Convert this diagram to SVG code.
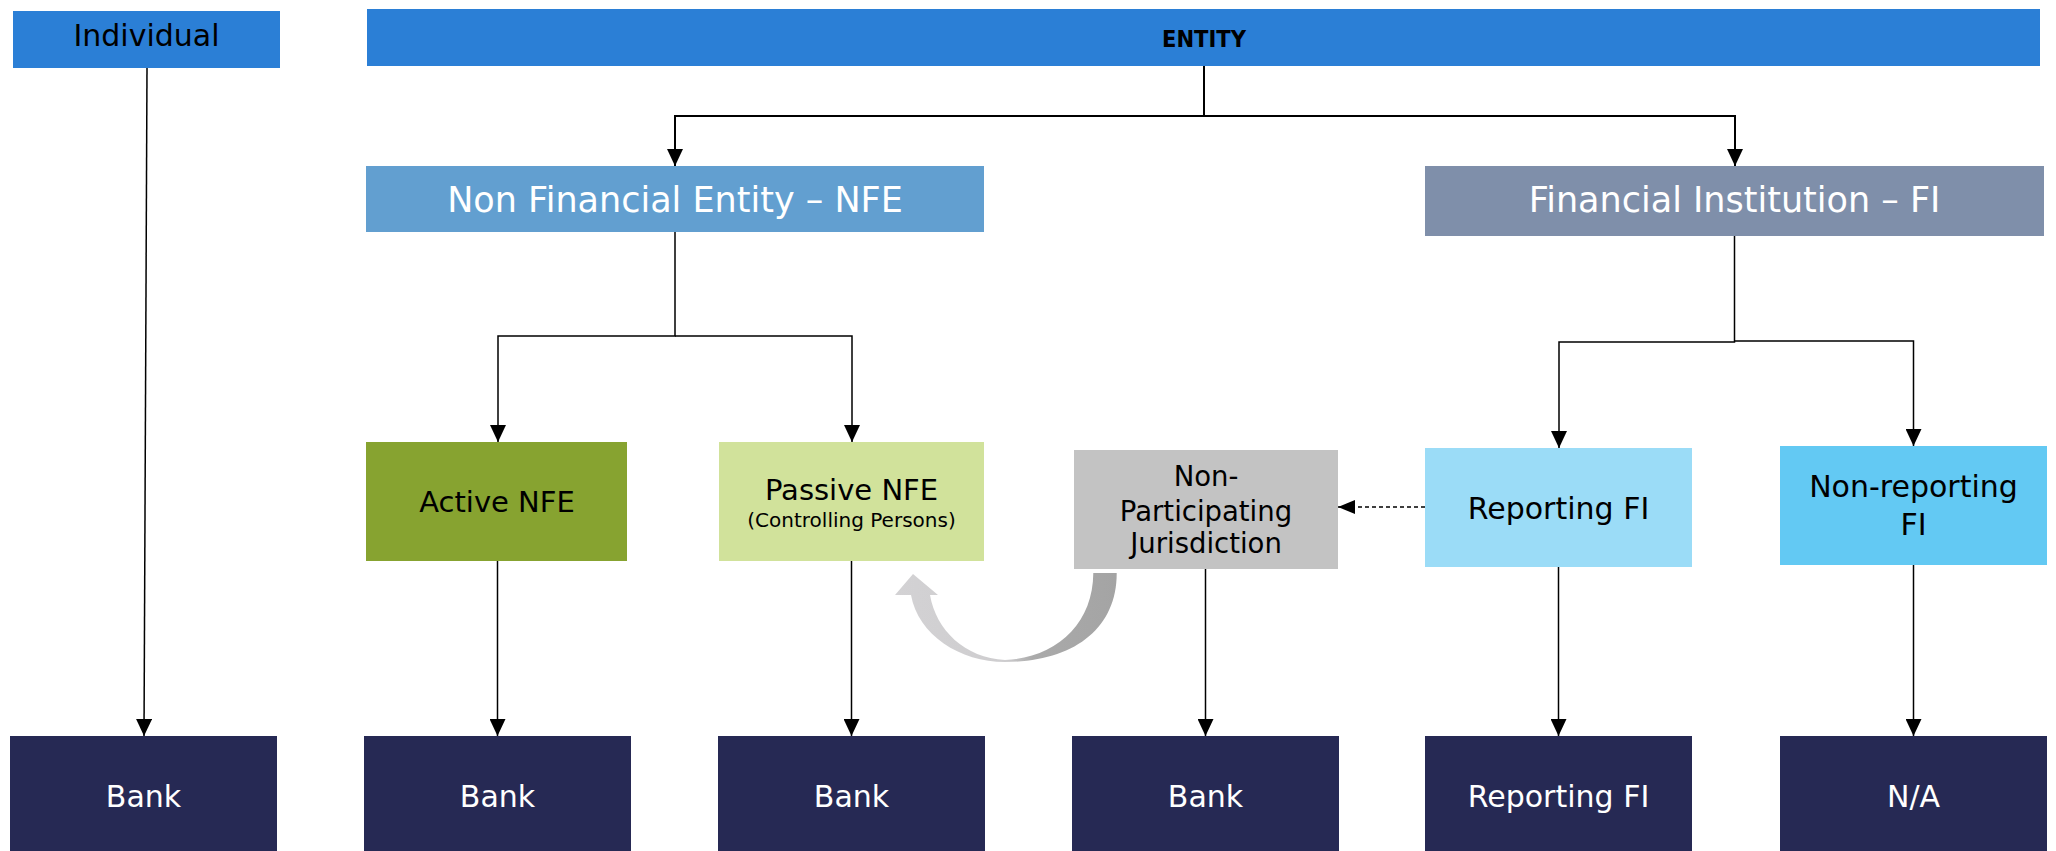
<svg xmlns="http://www.w3.org/2000/svg" width="2056" height="851" viewBox="0 0 2056 851">
<style>
text{font-family:"DejaVu Sans","Liberation Sans",sans-serif;text-anchor:middle}
.dk{fill:#000}
.wt{fill:#fff}
.bank{fill:#262954}
.conn{fill:none;stroke:#000;stroke-width:1.5}
.top{stroke-width:2}
</style>
<defs>
<marker id="ah" viewBox="0 0 17 16" refX="17" refY="8" markerWidth="17" markerHeight="16" markerUnits="userSpaceOnUse" orient="auto">
<path d="M0,0 L17,8 L0,16 z" fill="#000"/>
</marker>
<marker id="ahd" viewBox="0 0 17 14" refX="17" refY="7" markerWidth="17" markerHeight="14" markerUnits="userSpaceOnUse" orient="auto">
<path d="M0,0 L17,7 L0,14 z" fill="#000"/>
</marker>
<linearGradient id="cg" gradientUnits="userSpaceOnUse" x1="895" y1="0" x2="1117" y2="0">
<stop offset="0" stop-color="#D3D2D4"/>
<stop offset="0.5" stop-color="#CECDCF"/>
<stop offset="0.62" stop-color="#AAAAAA"/>
<stop offset="1" stop-color="#A4A4A4"/>
</linearGradient>
</defs>
<rect width="2056" height="851" fill="#fff"/>

<g id="individual">
<rect x="13" y="11" width="267" height="57" fill="#2B7FD6"/>
<text x="146.5" y="46" font-size="30" class="dk">Individual</text>
</g>
<g id="entity">
<rect x="367" y="9" width="1673" height="57" fill="#2B7FD6"/>
<text x="1204" y="47" font-size="23" font-weight="bold" class="dk" textLength="84" lengthAdjust="spacingAndGlyphs">ENTITY</text>
</g>
<g id="nfe">
<rect x="366" y="166" width="618" height="66" fill="#629FD0"/>
<text x="675" y="212" font-size="35" class="wt">Non Financial Entity – NFE</text>
</g>
<g id="fi">
<rect x="1425" y="166" width="619" height="70" fill="#7F8FAA"/>
<text x="1734.5" y="212" font-size="35" class="wt">Financial Institution – FI</text>
</g>
<g id="active-nfe">
<rect x="366" y="442" width="261" height="119" fill="#87A330"/>
<text x="497" y="512" font-size="29" class="dk">Active NFE</text>
</g>
<g id="passive-nfe">
<rect x="719" y="442" width="265" height="119" fill="#D1E29B"/>
<text x="851.5" y="500" font-size="29" class="dk">Passive NFE</text>
<text x="851.5" y="527" font-size="20" class="dk">(Controlling Persons)</text>
</g>
<g id="npj">
<rect x="1074" y="450" width="264" height="119" fill="#C3C3C3"/>
<text x="1206" y="486" font-size="27.5" class="dk">Non-</text>
<text x="1206" y="521" font-size="27.5" class="dk">Participating</text>
<text x="1206" y="553" font-size="27.5" class="dk">Jurisdiction</text>
</g>
<g id="reporting-fi">
<rect x="1425" y="448" width="267" height="119" fill="#9BDCF7"/>
<text x="1558.5" y="519" font-size="30" class="dk">Reporting FI</text>
</g>
<g id="non-reporting-fi">
<rect x="1780" y="446" width="267" height="119" fill="#63C9F3"/>
<text x="1913.5" y="497" font-size="30" class="dk">Non-reporting</text>
<text x="1913.5" y="535" font-size="30" class="dk">FI</text>
</g>

<g id="bank1"><rect x="10" y="736" width="267" height="115" class="bank"/><text x="143.5" y="807" font-size="30" class="wt">Bank</text></g>
<g id="bank2"><rect x="364" y="736" width="267" height="115" class="bank"/><text x="497.5" y="807" font-size="30" class="wt">Bank</text></g>
<g id="bank3"><rect x="718" y="736" width="267" height="115" class="bank"/><text x="851.5" y="807" font-size="30" class="wt">Bank</text></g>
<g id="bank4"><rect x="1072" y="736" width="267" height="115" class="bank"/><text x="1205.5" y="807" font-size="30" class="wt">Bank</text></g>
<g id="out-reporting-fi"><rect x="1425" y="736" width="267" height="115" class="bank"/><text x="1558.5" y="807" font-size="30" class="wt">Reporting FI</text></g>
<g id="out-na"><rect x="1780" y="736" width="267" height="115" class="bank"/><text x="1913.5" y="807" font-size="30" class="wt">N/A</text></g>

<g id="connectors">
<path class="conn top" d="M1204,66 V116 H675 V166" marker-end="url(#ah)"/>
<path class="conn top" d="M1204,116 H1735 V166" marker-end="url(#ah)"/>
<path class="conn" d="M675,232 V336 H498 V442" marker-end="url(#ah)"/>
<path class="conn" d="M675,336 H852 V442" marker-end="url(#ah)"/>
<path class="conn" d="M1734.5,236 V342 H1559 V448" marker-end="url(#ah)"/>
<path class="conn" d="M1734.5,341 H1913.5 V446" marker-end="url(#ah)"/>
<path class="conn" d="M147,68 L144,736" marker-end="url(#ah)"/>
<path class="conn" d="M497.5,561 V736" marker-end="url(#ah)"/>
<path class="conn" d="M851.5,561 V736" marker-end="url(#ah)"/>
<path class="conn" d="M1205.5,569 V736" marker-end="url(#ah)"/>
<path class="conn" d="M1558.5,567 V736" marker-end="url(#ah)"/>
<path class="conn" d="M1913.5,565 V736" marker-end="url(#ah)"/>
<path class="conn" d="M1425,507 H1338" stroke-dasharray="4 3" marker-end="url(#ahd)"/>
<path id="curved-arrow" fill="url(#cg)" d="M1093.3,573 L1116.7,573 C1117,630 1072,662 1005,662 C960,662 918,635 911,595 L895,595 L913,574 L938,595 L930,595 C936,630 965,658 1005,660 C1055,658 1093,625 1093.3,573 Z"/>
</g>
</svg>
